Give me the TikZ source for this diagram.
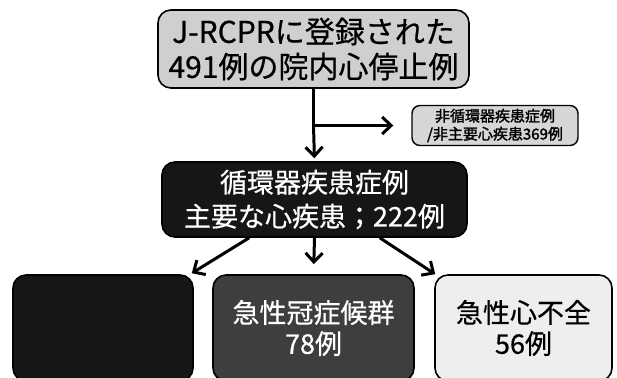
\documentclass[tikz,border=0pt]{standalone}
\usepackage{fontspec}
\newfontfamily\jp[FakeBold=0.6]{Noto Sans CJK JP}
\newfontfamily\jpbold[FakeBold=1.8]{Noto Sans CJK JP}
\usetikzlibrary{arrows.meta}
\definecolor{lightbox}{HTML}{CFCFCF}
\definecolor{smallbox}{HTML}{D6D6D6}
\definecolor{darkbox}{HTML}{161616}
\definecolor{midbox}{HTML}{3E3E3E}
\definecolor{palebox}{HTML}{EEEEEE}
\tikzset{
  every node/.style={font=\jp},
  box/.style={draw=black, line width=1.6pt, rounded corners=13pt, align=center,
              inner sep=0pt},
  conn/.style={line width=3pt, -{Straight Barb[length=9pt,width=17pt]}},
  branch/.style={line width=3pt},
}
\begin{document}
\begin{tikzpicture}[x=1pt,y=-1pt]
\useasboundingbox (0,0) rectangle (617,377);
\clip (0,0) rectangle (617,377);
% top box
\node[box, fill=lightbox, minimum width=311pt, minimum height=78pt,
      font=\jp\fontsize{30}{35}\selectfont] (top) at (313.5,49)
  {J-RCPRに登録された\\491例の院内心停止例};
% side box
\node[box, fill=smallbox, line width=1.4pt, rounded corners=8pt,
      minimum width=166pt, minimum height=40pt,
      font=\jpbold\fontsize{15}{18}\selectfont] (side) at (495,125.5)
  {非循環器疾患症例\\/非主要心疾患369例};
% middle box
\node[box, fill=darkbox, text=white, minimum width=305pt, minimum height=75pt,
      font=\jp\fontsize{27}{34}\selectfont] (mid) at (314.5,199.5)
  {循環器疾患症例\\主要な心疾患；222例};
% bottom boxes
\node[box, fill=darkbox, minimum width=180pt, minimum height=106pt] (bl) at (103,328) {};
\node[box, fill=midbox, text=white, minimum width=201pt, minimum height=106pt,
      font=\jp\fontsize{27}{31}\selectfont] (bm) at (313.5,328)
  {急性冠症候群\\78例};
\node[box, fill=palebox, minimum width=177pt, minimum height=106pt,
      font=\jp\fontsize{27}{31}\selectfont] (br) at (523.5,328)
  {急性心不全\\56例};
% connectors
\coordinate (fork) at (top.south |- side.west);
\draw[branch] (top.south) -- (fork);
\draw[conn, shorten >=18pt] (fork) -- (side.west);
\draw[conn, shorten >=3pt] (fork) -- (mid.north);
\coordinate (ls) at ([xshift=88pt]mid.south west);
\coordinate (rs) at ([xshift=-88pt]mid.south east);
\draw[conn] (ls) -- ([shift={(-2pt,1pt)}]bl.north east);
\draw[conn, shorten >=10pt] (mid.south) -- (bm.north);
\draw[conn] (rs) -- ([shift={(1pt,0pt)}]br.north west);
\end{tikzpicture}
\end{document}
